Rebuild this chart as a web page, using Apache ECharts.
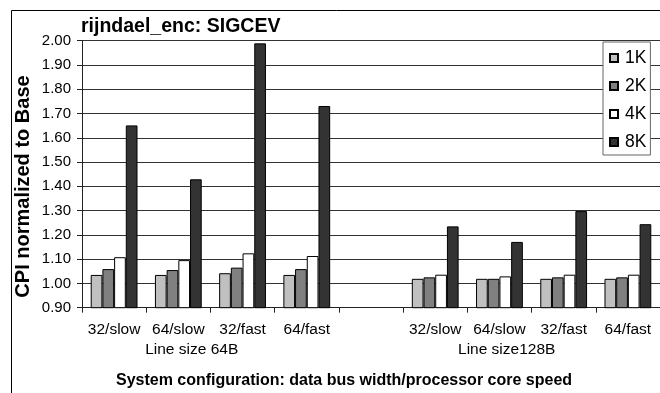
<!DOCTYPE html>
<html>
<head>
<meta charset="utf-8">
<script src="https://cdn.jsdelivr.net/npm/echarts@6/dist/echarts.min.js"></script>
<style>
html,body{margin:0;padding:0;background:#fff;}
#main{width:660px;height:393px;}
</style>
</head>
<body>
<div id="main"></div>
<script>
var categories = ['32/slow', '64/slow', '32/fast', '64/fast', '', '32/slow', '64/slow', '32/fast', '64/fast'];
var seriesNames = ['1K', '2K', '4K', '8K'];
var values1K = [1.035, 1.035, 1.042, 1.035, null, 1.019, 1.019, 1.019, 1.019];
var values2K = [1.059, 1.055, 1.065, 1.059, null, 1.025, 1.019, 1.025, 1.025];
var values4K = [1.108, 1.096, 1.124, 1.113, null, 1.036, 1.029, 1.036, 1.036];
var values8K = [1.651, 1.429, 1.989, 1.731, null, 1.235, 1.171, 1.298, 1.244];
var groupLabels = ['Line size 64B', 'Line size128B'];
var xTitle = 'System configuration: data bus width/processor core speed';
var yTitle = 'CPI normalized to Base';
var colors = ['#c0c0c0', '#808080', '#ffffff', '#333333'];

var FONT = '"Liberation Sans", Arial, sans-serif';
var chart = echarts.init(document.getElementById('main'), null, {renderer: 'canvas'});
var allValues = [values1K, values2K, values4K, values8K];
var series = seriesNames.map(function (n, i) {
  return {
    name: n,
    type: 'bar',
    data: allValues[i],
    barGap: '0%',
    barWidth: 11.7,
    itemStyle: {color: colors[i], borderColor: '#000', borderWidth: 1},
    emphasis: {disabled: true},
    animation: false
  };
});

chart.setOption({
  animation: false,
  textStyle: {fontFamily: FONT},
  title: {
    text: 'rijndael_enc: SIGCEV',
    left: 76, top: 12,
    textStyle: {fontFamily: FONT, fontSize: 19.5, fontWeight: 'bold', color: '#000'}
  },
  legend: {
    orient: 'vertical',
    left: 603, top: 42,
    data: seriesNames,
    itemWidth: 8, itemHeight: 8,
    itemGap: 10,
    padding: [7, 4, 4, 6],
    borderColor: '#666', borderWidth: 1,
    backgroundColor: '#fff',
    textStyle: {fontFamily: FONT, fontSize: 17.5, color: '#000', lineHeight: 17, padding: [0, 0, 0, 2]},
    icon: 'rect'
  },
  grid: {left: 82, top: 40.7, width: 579, height: 267, containLabel: false},
  xAxis: {
    type: 'category',
    data: categories,
    axisLine: {lineStyle: {color: '#222', width: 1}},
    axisTick: {show: true, length: 5, lineStyle: {color: '#222'}},
    axisLabel: {fontFamily: FONT, fontSize: 15.5, color: '#000', margin: 14, interval: 0}
  },
  yAxis: {
    type: 'value',
    min: 0.9, max: 2.0, interval: 0.1,
    axisLine: {show: true, lineStyle: {color: '#222', width: 1}},
    axisTick: {show: true, length: 5, lineStyle: {color: '#222'}},
    axisLabel: {fontFamily: FONT, fontSize: 15, color: '#000', margin: 11,
      formatter: function (v) { return v.toFixed(2); }},
    splitLine: {show: true, lineStyle: {color: '#333', width: 1}}
  },
  graphic: [
    {type: 'rect', left: 9, top: 8, shape: {width: 700, height: 420}, style: {fill: 'none', stroke: '#000', lineWidth: 1}, z: -10, silent: true},
    {type: 'text', x: 191.7, y: 350, style: {text: groupLabels[0], font: '15.5px ' + FONT, fill: '#000', align: 'center', verticalAlign: 'middle'}},
    {type: 'text', x: 506.7, y: 350, style: {text: groupLabels[1], font: '15.5px ' + FONT, fill: '#000', align: 'center', verticalAlign: 'middle'}},
    {type: 'text', x: 344, y: 380.7, style: {text: xTitle, font: 'bold 16px ' + FONT, fill: '#000', align: 'center', verticalAlign: 'middle'}},
    {type: 'text', x: 23.3, y: 186.5, rotation: Math.PI / 2, style: {text: yTitle, font: 'bold 20px ' + FONT, fill: '#000', align: 'center', verticalAlign: 'middle'}}
  ],
  series: series
});
</script>
</body>
</html>
